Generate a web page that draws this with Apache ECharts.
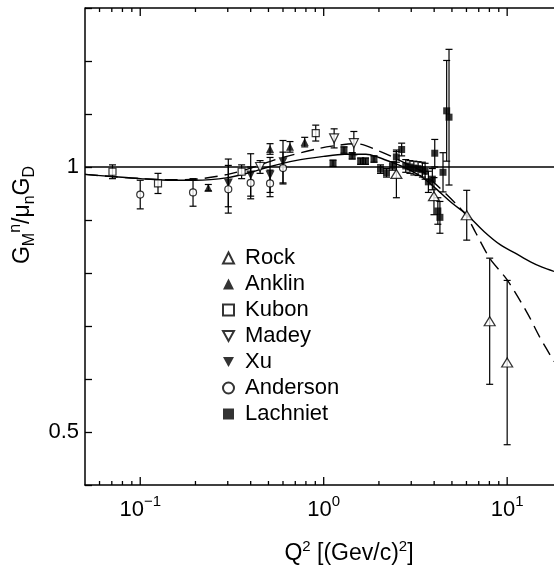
<!DOCTYPE html>
<html>
<head>
<meta charset="utf-8">
<script src="https://cdn.jsdelivr.net/npm/echarts@6/dist/echarts.min.js"></script>
<style>
  html, body { margin: 0; padding: 0; background: #fff; }
  #chart { width: 554px; height: 576px; }
</style>
</head>
<body>
<div id="chart"></div>
<script>
// each point: [Q2, GMn/(mu_n GD), error]
var rock = [[2.49, 0.987, 0.045], [3.99, 0.945, 0.035], [6.02, 0.909, 0.047], [8.03, 0.709, 0.119], [10.0, 0.631, 0.155]];
var anklin = [[0.235, 0.961, 0.006], [0.51, 1.034, 0.01], [0.655, 1.038, 0.01], [0.788, 1.047, 0.009]];
var kubon = [[0.0706, 0.991, 0.013], [0.125, 0.969, 0.019], [0.357, 0.991, 0.013], [0.905, 1.064, 0.015]];
var madey = [[0.45, 1.0, 0.012], [1.14, 1.054, 0.018], [1.46, 1.045, 0.022]];
var xu = [[0.302, 0.97, 0.045], [0.40, 0.985, 0.04], [0.51, 0.985, 0.033], [0.60, 1.01, 0.04]];
var anderson = [[0.1, 0.948, 0.027], [0.194, 0.952, 0.026], [0.302, 0.958, 0.045], [0.40, 0.97, 0.03], [0.51, 0.969, 0.025], [0.60, 0.998, 0.03]];
var lachniet = [
  [1.124, 1.007, 0.006], [1.29, 1.032, 0.006], [1.43, 1.021, 0.006], [1.59, 1.011, 0.006], [1.69, 1.011, 0.006],
  [1.88, 1.015, 0.006], [2.04, 0.996, 0.008], [2.20, 0.989, 0.008], [2.37, 1.002, 0.008], [2.49, 1.019, 0.01],
  [2.66, 1.033, 0.012], [2.80, 1.002, 0.012], [2.95, 1.0, 0.012], [3.10, 0.998, 0.013], [3.27, 0.997, 0.013],
  [3.45, 0.995, 0.014], [3.57, 0.992, 0.015], [3.72, 0.972, 0.02], [3.91, 0.977, 0.02], [4.03, 1.026, 0.026],
  [4.19, 0.917, 0.025], [4.30, 0.905, 0.03], [4.47, 0.99, 0.037], [4.68, 1.106, 0.095], [4.82, 1.094, 0.128]
];

// fit curves
var solidX = [0.05, 0.07, 0.1, 0.15, 0.2, 0.3, 0.4, 0.5, 0.7, 1.0, 1.3, 1.7, 2.0, 2.3, 2.8, 3.4, 4.0, 5.0, 6.0, 7.5, 9.2, 11, 13.4, 15.5, 18];
var solidY = [0.986, 0.982, 0.978, 0.975, 0.975, 0.98, 0.99, 1.0, 1.012, 1.02, 1.024, 1.024, 1.018, 1.01, 0.998, 0.982, 0.962, 0.932, 0.911, 0.878, 0.853, 0.838, 0.821, 0.811, 0.803];
var dashX = [0.05, 0.07, 0.1, 0.15, 0.2, 0.3, 0.4, 0.57, 0.94, 1.26, 1.5, 2.04, 2.8, 3.5, 4.07, 5.35, 6.0, 6.74, 8.1, 10, 12.9, 15, 18];
var dashY = [0.986, 0.982, 0.978, 0.976, 0.977, 0.986, 0.998, 1.016, 1.035, 1.042, 1.044, 1.029, 1.007, 0.99, 0.968, 0.928, 0.908, 0.876, 0.826, 0.787, 0.724, 0.68, 0.633];
var unityX = [0.05, 18];
var unityY = [1, 1];

// axes
var xMin = 0.05, xMax = 18;
var yMin = 0.4, yMax = 1.3;
var xMajor = [0.1, 1, 10];
var xMinor = [0.06, 0.07, 0.08, 0.09, 0.2, 0.3, 0.4, 0.5, 0.6, 0.7, 0.8, 0.9, 2, 3, 4, 5, 6, 7, 8, 9];
var yLabels = [0.5, 1];

var FONT = 'Liberation Sans, Arial, sans-serif';
var BLACK = '#000';

function pairs(xs, ys) {
  return xs.map(function (x, i) { return [x, ys[i]]; });
}

function powLabel(v) {
  var e = Math.round(Math.log(v) / Math.LN10);
  if (xMajor.indexOf(Math.pow(10, e)) < 0 || Math.abs(v - Math.pow(10, e)) > 1e-9 * v) return '';
  return '{b|10}{s|' + (e < 0 ? '\u2212' + (-e) : e) + '}';
}

function renderErr(params, api) {
  var x = api.value(0), y = api.value(1), e = api.value(2);
  var hi = api.coord([x, y + e]);
  var lo = api.coord([x, y - e]);
  var w = 3.5;
  var st = { stroke: BLACK, lineWidth: 1.2 };
  return {
    type: 'group',
    children: [
      { type: 'line', shape: { x1: hi[0], y1: hi[1], x2: lo[0], y2: lo[1] }, style: st },
      { type: 'line', shape: { x1: hi[0] - w, y1: hi[1], x2: hi[0] + w, y2: hi[1] }, style: st },
      { type: 'line', shape: { x1: lo[0] - w, y1: lo[1], x2: lo[0] + w, y2: lo[1] }, style: st }
    ]
  };
}

// log ticks on bottom and top edges, pointing inward
function renderTick(params, api) {
  var v = api.value(0), len = api.value(2);
  var b = api.coord([v, yMin]);
  var t = api.coord([v, yMax]);
  var st = { stroke: BLACK, lineWidth: 1.3 };
  return {
    type: 'group',
    children: [
      { type: 'line', shape: { x1: b[0], y1: b[1], x2: b[0], y2: b[1] - len }, style: st },
      { type: 'line', shape: { x1: t[0], y1: t[1], x2: t[0], y2: t[1] + len }, style: st }
    ]
  };
}

var tickData = xMajor.map(function (v) { return [v, 1, 8]; })
  .concat(xMinor.map(function (v) { return [v, 1, 4]; }));

var openStyle = { color: '#fff', borderColor: BLACK, borderWidth: 1.2 };
var fullStyle = { color: BLACK };
var downTri = 'path://M0,0 L10,0 L5,9 Z';

var chart = echarts.init(document.getElementById('chart'));
chart.setOption({
  animation: false,
  backgroundColor: '#fff',
  grid: { left: 85, right: 0, top: 8, bottom: 91, outerBoundsMode: 'none' },
  legend: {
    orient: 'vertical',
    left: 222,
    top: 245,
    padding: 0,
    itemGap: 0,
    itemWidth: 11,
    itemHeight: 11,
    selectedMode: false,
    data: [
      { name: 'Rock' },
      { name: 'Anklin' },
      { name: 'Kubon' },
      { name: 'Madey', icon: downTri },
      { name: 'Xu', icon: downTri },
      { name: 'Anderson' },
      { name: 'Lachniet' }
    ],
    textStyle: { fontSize: 22, fontFamily: FONT, color: BLACK, lineHeight: 26, padding: [0, 0, 0, 6] }
  },
  xAxis: {
    type: 'log',
    logBase: 10,
    min: xMin,
    max: xMax,
    axisLine: { show: true, lineStyle: { color: BLACK, width: 1.5 } },
    axisTick: { show: false },
    axisLabel: {
      formatter: powLabel,
      margin: 9,
      showMinLabel: false,
      showMaxLabel: false,
      color: BLACK,
      fontFamily: FONT,
      rich: {
        b: { fontSize: 22, lineHeight: 32, fontFamily: FONT, color: BLACK },
        s: { fontSize: 15, lineHeight: 13, verticalAlign: 'top', fontFamily: FONT, color: BLACK }
      }
    },
    splitLine: { show: false }
  },
  yAxis: {
    type: 'value',
    min: yMin,
    max: yMax,
    interval: 0.1,
    axisLine: { show: true, lineStyle: { color: BLACK, width: 1.5 } },
    axisTick: { inside: true, length: 7, lineStyle: { color: BLACK, width: 1.3 } },
    axisLabel: {
      margin: 6,
      fontSize: 22,
      fontFamily: FONT,
      color: BLACK,
      formatter: function (v) {
        for (var i = 0; i < yLabels.length; i++) {
          if (Math.abs(v - yLabels[i]) < 1e-6) return String(yLabels[i]);
        }
        return '';
      }
    },
    splitLine: { show: false }
  },
  graphic: [
    {
      type: 'line',
      shape: { x1: 85, y1: 8, x2: 554, y2: 8 },
      style: { stroke: BLACK, lineWidth: 1.5 }
    },
    {
      type: 'text',
      x: 23,
      y: 215,
      rotation: Math.PI / 2,
      style: {
        text: '{b|G}{d|M}{u|n}{b|/\u03bc}{d|n}{b|G}{d|D}',
        align: 'center',
        verticalAlign: 'middle',
        rich: {
          b: { fontSize: 23, lineHeight: 30, fontFamily: FONT, fill: BLACK },
          d: { fontSize: 16, lineHeight: 13, verticalAlign: 'bottom', fontFamily: FONT, fill: BLACK },
          u: { fontSize: 16, lineHeight: 13, verticalAlign: 'top', fontFamily: FONT, fill: BLACK }
        }
      }
    },
    {
      type: 'text',
      x: 349,
      y: 554,
      style: {
        text: '{b|Q}{u|2}{b| [(Gev/c)}{u|2}{b|]}',
        align: 'center',
        verticalAlign: 'middle',
        rich: {
          b: { fontSize: 23, lineHeight: 30, fontFamily: FONT, fill: BLACK },
          u: { fontSize: 15, lineHeight: 13, verticalAlign: 'top', fontFamily: FONT, fill: BLACK }
        }
      }
    }
  ],
  series: [
    {
      name: 'errors',
      type: 'custom',
      renderItem: renderErr,
      encode: { x: 0, y: 1 },
      data: [].concat(rock, anklin, kubon, madey, xu, anderson, lachniet),
      z: 1,
      silent: true
    },
    {
      name: 'unity',
      type: 'line',
      data: pairs(unityX, unityY),
      symbol: 'none',
      lineStyle: { color: BLACK, width: 1.4 },
      z: 2
    },
    {
      name: 'fit solid',
      type: 'line',
      data: pairs(solidX, solidY),
      smooth: 0.3,
      symbol: 'none',
      lineStyle: { color: BLACK, width: 1.4 },
      z: 2
    },
    {
      name: 'fit dashed',
      type: 'line',
      data: pairs(dashX, dashY),
      smooth: 0.3,
      symbol: 'none',
      lineStyle: { color: BLACK, width: 1.4, type: [13, 7] },
      z: 2
    },
    { name: 'Rock', type: 'scatter', data: rock, symbol: 'triangle', symbolSize: [11, 9], itemStyle: openStyle, z: 3 },
    { name: 'Anklin', type: 'scatter', data: anklin, symbol: 'triangle', symbolSize: 8, itemStyle: fullStyle, z: 3 },
    { name: 'Kubon', type: 'scatter', data: kubon, symbol: 'rect', symbolSize: 7, itemStyle: openStyle, z: 3 },
    { name: 'Madey', type: 'scatter', data: madey, symbol: 'triangle', symbolRotate: 180, symbolSize: 9, itemStyle: openStyle, z: 3 },
    { name: 'Xu', type: 'scatter', data: xu, symbol: 'triangle', symbolRotate: 180, symbolSize: 9, itemStyle: fullStyle, z: 3 },
    { name: 'Anderson', type: 'scatter', data: anderson, symbol: 'circle', symbolSize: 7, itemStyle: openStyle, z: 3 },
    { name: 'Lachniet', type: 'scatter', data: lachniet, symbol: 'rect', symbolSize: 7, itemStyle: fullStyle, z: 3 },
    {
      name: 'ticks',
      type: 'custom',
      renderItem: renderTick,
      encode: { x: 0, y: 1 },
      data: tickData,
      z: 4,
      silent: true
    }
  ]
});
</script>
</body>
</html>
